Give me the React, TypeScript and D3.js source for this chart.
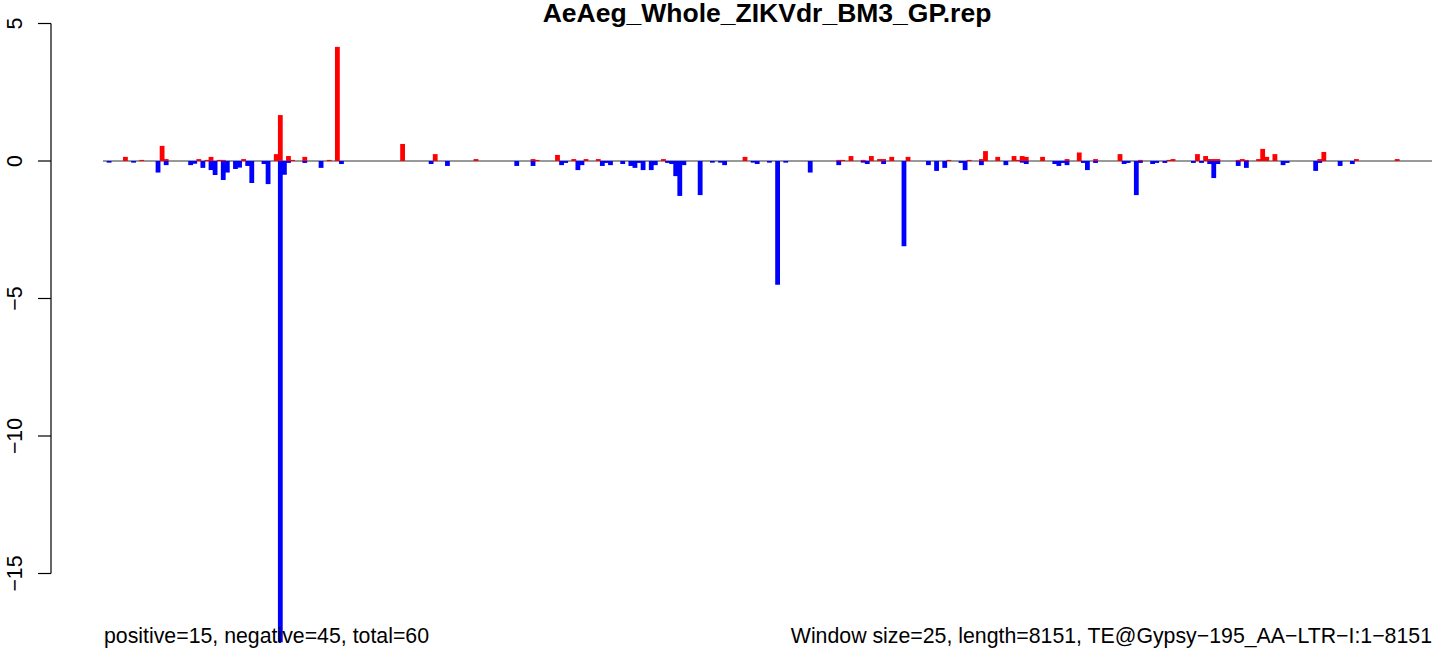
import React from "react";
import * as d3 from "d3";

const titleText = "AeAeg_Whole_ZIKVdr_BM3_GP.rep";
const leftNote = "positive=15, negative=45, total=60";
const rightNote = "Window size=25, length=8151, TE@Gypsy\u2212195_AA\u2212LTR\u2212I:1\u22128151";
const teLength = 8151;
const windowSize = 25;
const yTicks = [5, 0, -5, -10, -15];

const posWin = [5, 9, 14, 15, 23, 25, 26, 28, 29, 34, 42, 43, 45, 46, 49, 55, 57, 73, 81, 91, 105, 106, 111, 115, 118, 121, 137, 157, 180, 181, 183, 186, 188, 190, 191, 193, 197, 207, 212, 215, 216, 219, 223, 224, 225, 226, 230, 236, 239, 243, 249, 254, 261, 262, 268, 270, 271, 272, 273, 278, 279, 280, 283, 284, 285, 287, 298, 299, 307, 317];
const posVal = [0.15, 0.04, 0.55, 0.07, 0.07, 0.04, 0.15, 0.04, 0.04, 0.07, 0.25, 1.67, 0.18, 0.04, 0.15, 0.04, 4.15, 0.62, 0.25, 0.07, 0.07, 0.04, 0.22, 0.07, 0.07, 0.07, 0.07, 0.15, 0.04, 0.04, 0.18, 0.04, 0.18, 0.07, 0.07, 0.15, 0.15, 0.04, 0.04, 0.07, 0.36, 0.15, 0.18, 0.04, 0.18, 0.15, 0.15, 0.07, 0.31, 0.07, 0.25, 0.04, 0.04, 0.07, 0.25, 0.18, 0.07, 0.07, 0.07, 0.04, 0.07, 0.04, 0.07, 0.44, 0.15, 0.25, 0.07, 0.33, 0.07, 0.07];

const negWin = [1, 7, 13, 15, 21, 22, 24, 26, 27, 29, 30, 32, 33, 35, 36, 39, 40, 43, 44, 45, 49, 53, 58, 80, 84, 101, 105, 112, 113, 116, 117, 122, 123, 124, 127, 129, 130, 131, 132, 134, 135, 138, 139, 140, 141, 142, 146, 149, 151, 152, 159, 160, 163, 165, 167, 173, 180, 186, 187, 191, 196, 202, 204, 206, 210, 211, 215, 221, 225, 226, 233, 234, 235, 236, 240, 241, 243, 250, 251, 253, 254, 257, 258, 260, 267, 269, 271, 272, 273, 278, 280, 289, 290, 297, 298, 303, 306];
const negVal = [-0.06, -0.06, -0.42, -0.15, -0.15, -0.1, -0.25, -0.33, -0.51, -0.69, -0.42, -0.29, -0.24, -0.18, -0.8, -0.11, -0.84, -17.5, -0.5, -0.07, -0.07, -0.25, -0.11, -0.11, -0.18, -0.18, -0.18, -0.15, -0.07, -0.33, -0.15, -0.18, -0.07, -0.15, -0.11, -0.18, -0.25, -0.07, -0.33, -0.33, -0.15, -0.07, -0.11, -0.55, -1.27, -0.15, -1.24, -0.06, -0.06, -0.15, -0.06, -0.11, -0.06, -4.5, -0.06, -0.42, -0.15, -0.06, -0.11, -0.11, -3.1, -0.15, -0.36, -0.25, -0.07, -0.33, -0.15, -0.15, -0.06, -0.11, -0.11, -0.18, -0.07, -0.15, -0.07, -0.33, -0.07, -0.11, -0.07, -1.24, -0.07, -0.11, -0.07, -0.07, -0.07, -0.07, -0.11, -0.62, -0.11, -0.18, -0.25, -0.15, -0.07, -0.36, -0.07, -0.18, -0.11];

const W = 1444;
const H = 656;
const FONT = "'Liberation Sans', Arial, Helvetica, sans-serif";

export default function App() {
  const x = d3.scaleLinear().domain([0, teLength]).range([103, 1432]);
  const y = d3.scaleLinear().domain([-15, 5]).range([573.5, 23.5]);
  const barW = 4.8;
  const cx = (w: number) => x((w + 0.5) * windowSize);

  return (
    <svg width={W} height={H} style={{ position: "absolute", left: 0, top: 0, background: "#fff" }}>
      <line x1={x(0)} x2={x(teLength)} y1={y(0)} y2={y(0)} stroke="#777" strokeWidth={1.6} />
      {posWin.map((w, i) => (
        <rect key={"p" + i} x={cx(w) - barW / 2} width={barW} y={y(posVal[i])} height={y(0) - y(posVal[i])} fill="#ff0000" />
      ))}
      {negWin.map((w, i) => (
        <rect key={"n" + i} x={cx(w) - barW / 2} width={barW} y={y(0)} height={y(negVal[i]) - y(0)} fill="#0000ff" />
      ))}
      <g fontFamily={FONT} fontSize={21.3} fill="#000">
        <line x1={51} x2={51} y1={y(-15)} y2={y(5)} stroke="#000" strokeWidth={1.2} />
        {yTicks.map((t) => (
          <g key={t}>
            <line x1={38} x2={51} y1={y(t)} y2={y(t)} stroke="#000" strokeWidth={1.2} />
            <text transform={`translate(21.5,${y(t)}) rotate(-90)`} textAnchor="middle">
              {t < 0 ? "\u2212" + Math.abs(t) : String(t)}
            </text>
          </g>
        ))}
        <text x={767} y={22} textAnchor="middle" fontWeight="bold" fontSize={26.5}>{titleText}</text>
        <text x={104} y={643}>{leftNote}</text>
        <text x={1432} y={643} textAnchor="end">{rightNote}</text>
      </g>
    </svg>
  );
}
